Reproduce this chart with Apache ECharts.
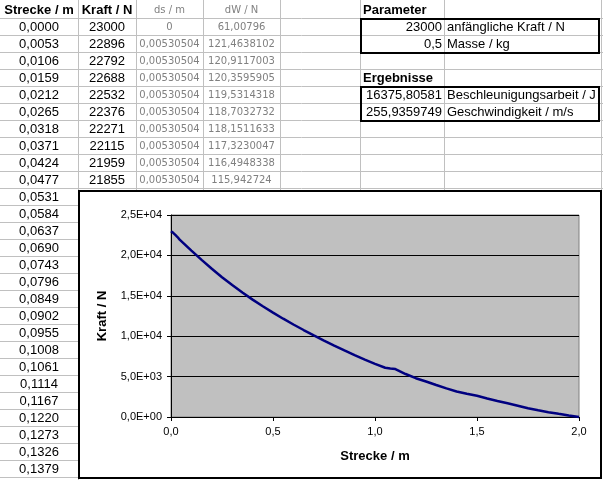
<!DOCTYPE html>
<html>
<head>
<meta charset="utf-8">
<script src="https://cdn.jsdelivr.net/npm/echarts@6/dist/echarts.min.js"></script>
<style>
html,body{margin:0;padding:0;background:#fff;}
#c{width:603px;height:480px;}
</style>
</head>
<body>
<div id="c"></div>
<script>
// ---- spreadsheet data ----
const headers = ['Strecke / m', 'Kraft / N', 'ds / m', 'dW / N'];
const tableStrecke = ['0,0000','0,0053','0,0106','0,0159','0,0212','0,0265','0,0318','0,0371','0,0424','0,0477',
  '0,0531','0,0584','0,0637','0,0690','0,0743','0,0796','0,0849','0,0902','0,0955','0,1008',
  '0,1061','0,1114','0,1167','0,1220','0,1273','0,1326','0,1379'];
const tableKraft = ['23000','22896','22792','22688','22532','22376','22271','22115','21959','21855'];
const tableDs = ['0','0,00530504','0,00530504','0,00530504','0,00530504','0,00530504','0,00530504','0,00530504','0,00530504','0,00530504'];
const tableDw = ['61,00796','121,4638102','120,9117003','120,3595905','119,5314318','118,7032732','118,1511633','117,3230047','116,4948338','115,942724'];
const paramTitle = 'Parameter';
const paramValues = ['23000', '0,5'];
const paramLabels = ['anfängliche Kraft / N', 'Masse / kg'];
const resultTitle = 'Ergebnisse';
const resultValues = ['16375,80581', '255,9359749'];
const resultLabels = ['Beschleunigungsarbeit / J', 'Geschwindigkeit / m/s'];

// ---- chart data ----
const chartStrecke = [0, 0.0053, 0.0106, 0.0159, 0.0212, 0.0265, 0.0318, 0.0371, 0.0424, 0.0477,
  0.1, 0.15, 0.2, 0.25, 0.3, 0.35, 0.4, 0.45, 0.5, 0.55, 0.6, 0.65, 0.7, 0.75, 0.8, 0.85, 0.9, 0.95,
  1.0, 1.05, 1.075, 1.1, 1.15, 1.2, 1.25, 1.3, 1.35, 1.4, 1.45, 1.5, 1.55, 1.6, 1.65, 1.7, 1.75,
  1.8, 1.85, 1.9, 1.95, 2.0];
const chartKraft = [23000, 22896, 22792, 22688, 22532, 22376, 22271, 22115, 21959, 21855,
  20600, 19450, 18350, 17305, 16325, 15400, 14525, 13700, 12915, 12165, 11450, 10765, 10105, 9465, 8840, 8235, 7650, 7095,
  6575, 6100, 6000, 5930, 5320, 4800, 4400, 3960, 3540, 3160, 2880, 2620, 2290, 1990, 1700, 1400, 1090,
  830, 600, 390, 190, 0];
const xTickLabels = ['0,0', '0,5', '1,0', '1,5', '2,0'];
const yTickLabels = ['0,0E+00', '5,0E+03', '1,0E+04', '1,5E+04', '2,0E+04', '2,5E+04'];
const xAxisTitle = 'Strecke / m';
const yAxisTitle = 'Kraft / N';

// ---- layout ----
const FONT = '"Liberation Sans", Arial, sans-serif';
const GRID_C = '#c0c0c0';
const colEdges = [78, 136, 203, 280, 360, 444, 601];
const colCenters = [39, 107, 169.5, 241.5];
const ROW = 17;
const chartBox = {x: 79, y: 191, w: 522, h: 287};

const g = [];
// horizontal grid lines
for (let k = 0; k <= 27; k++) {
  const y = 18.5 + ROW * k;
  const x2 = y < chartBox.y ? 603 : 78;
  g.push({type: 'line', z: 0, silent: true, shape: {x1: 0, y1: y, x2: x2, y2: y}, style: {stroke: GRID_C, lineWidth: 1}});
}
// vertical grid lines
colEdges.forEach(function (x) {
  const y2 = x === 78 ? 480 : chartBox.y;
  g.push({type: 'line', z: 0, silent: true, shape: {x1: x + 0.5, y1: 0, x2: x + 0.5, y2: y2}, style: {stroke: GRID_C, lineWidth: 1}});
});
function txt(s, x, y, align, opts) {
  opts = opts || {};
  g.push({type: 'text', z: 1, silent: true, x: x, y: y, style: {
    text: s, x: 0, y: 0, align: align, verticalAlign: 'middle',
    font: (opts.bold ? 'bold ' : '') + (opts.size || 13) + 'px ' + (opts.family || FONT),
    fill: opts.color || '#000'
  }});
}
const grayOpts = {size: 10, color: '#808080', family: '"DejaVu Sans", sans-serif'};
// header row
txt(headers[0], colCenters[0], 10, 'center', {bold: true});
txt(headers[1], colCenters[1], 10, 'center', {bold: true});
txt(headers[2], colCenters[2], 10, 'center', grayOpts);
txt(headers[3], colCenters[3], 10, 'center', grayOpts);
tableStrecke.forEach(function (s, k) { txt(s, colCenters[0], 27.5 + ROW * k, 'center'); });
tableKraft.forEach(function (s, k) { txt(s, colCenters[1], 27.5 + ROW * k, 'center'); });
tableDs.forEach(function (s, k) { txt(s, colCenters[2], 27.5 + ROW * k, 'center', grayOpts); });
tableDw.forEach(function (s, k) { txt(s, colCenters[3], 27.5 + ROW * k, 'center', grayOpts); });
// parameter block
txt(paramTitle, 363, 10, 'left', {bold: true});
paramValues.forEach(function (s, k) { txt(s, 442, 27.5 + ROW * k, 'right'); });
paramLabels.forEach(function (s, k) { txt(s, 447, 27.5 + ROW * k, 'left'); });
txt(resultTitle, 363, 78.5, 'left', {bold: true});
resultValues.forEach(function (s, k) { txt(s, 442, 95.5 + ROW * k, 'right'); });
resultLabels.forEach(function (s, k) { txt(s, 447, 95.5 + ROW * k, 'left'); });
// boxes
g.push({type: 'rect', z: 2, silent: true, shape: {x: 361, y: 19, width: 238, height: 34}, style: {fill: 'none', stroke: '#000', lineWidth: 2}});
g.push({type: 'rect', z: 2, silent: true, shape: {x: 361, y: 87, width: 238, height: 34}, style: {fill: 'none', stroke: '#000', lineWidth: 2}});
// chart area
g.push({type: 'rect', z: 3, silent: true, shape: {x: chartBox.x, y: chartBox.y, width: chartBox.w, height: chartBox.h}, style: {fill: '#fff', stroke: '#000', lineWidth: 2}});

const chart = echarts.init(document.getElementById('c'), null, {renderer: 'canvas', width: 603, height: 480});
chart.setOption({
  animation: false,
  backgroundColor: '#fff',
  graphic: {elements: g},
  grid: {left: 171, top: 215, width: 408, height: 202, show: true, backgroundColor: '#c0c0c0', borderColor: '#808080', borderWidth: 1, z: 10},
  xAxis: {
    type: 'value', min: 0, max: 2, interval: 0.5, z: 11,
    name: xAxisTitle, nameLocation: 'middle', nameGap: 33,
    nameTextStyle: {fontFamily: FONT, fontSize: 13, fontWeight: 'bold', color: '#000'},
    axisLine: {show: true, lineStyle: {color: '#000', width: 1}},
    axisTick: {show: true, inside: false, length: 4, lineStyle: {color: '#000'}},
    axisLabel: {margin: 9, fontFamily: FONT, fontSize: 11, color: '#000',
      formatter: function (v) { return xTickLabels[Math.round(v / 0.5)]; }},
    splitLine: {show: false}
  },
  yAxis: {
    type: 'value', min: 0, max: 25000, interval: 5000, z: 11,
    name: yAxisTitle, nameLocation: 'middle', nameGap: 62, nameRotate: 90,
    nameTextStyle: {fontFamily: FONT, fontSize: 13, fontWeight: 'bold', color: '#000'},
    axisLine: {show: true, lineStyle: {color: '#000', width: 1}},
    axisTick: {show: true, inside: false, length: 4, lineStyle: {color: '#000'}},
    axisLabel: {margin: 9, fontFamily: FONT, fontSize: 11, color: '#000',
      formatter: function (v) { return yTickLabels[Math.round(v / 5000)]; }},
    splitLine: {show: true, lineStyle: {color: '#000', width: 1}}
  },
  series: [{
    type: 'line', z: 12,
    data: chartStrecke.map(function (s, i) { return [s, chartKraft[i]]; }),
    showSymbol: false, symbol: 'none', smooth: false,
    lineStyle: {color: '#000080', width: 2.5},
    clip: false
  }]
});
</script>
</body>
</html>
